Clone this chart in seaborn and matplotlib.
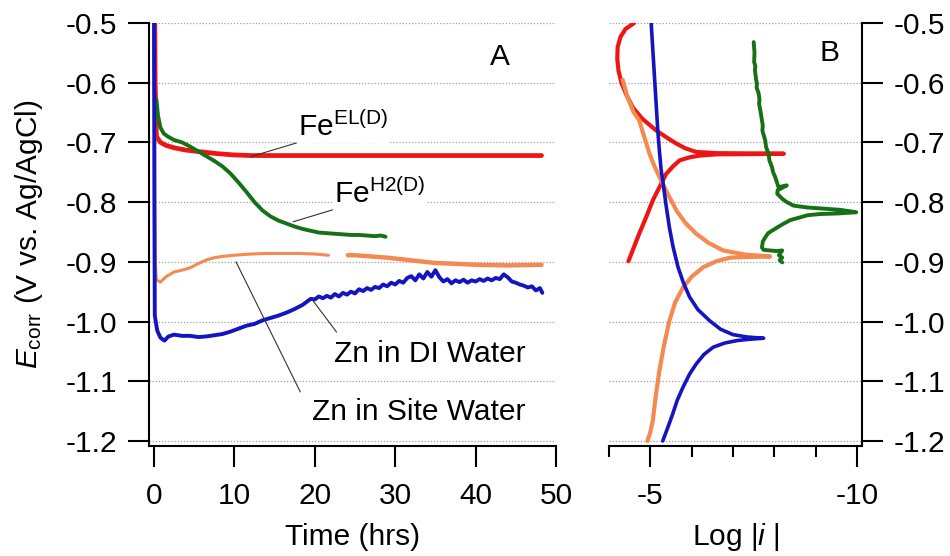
import numpy as np
import pandas as pd
import matplotlib
matplotlib.use('Agg')
import matplotlib.pyplot as plt
import seaborn as sns

# ---- Panel A: open circuit potential vs time ----
zn_di_t = [0.0, 0.05, 0.1, 0.4, 0.8, 1.3, 1.8, 2.5, 3.5, 4.5, 5.5, 6.5, 7.5, 8.5, 9.5,
           10.5, 11.5, 12.5, 13.5, 14.5, 15.5, 16.5, 17.5, 18.5, 19.5, 20.0, 20.5, 21.0,
           21.5, 22.0, 22.5, 23.0, 23.5, 24.0, 24.5, 25.0, 25.5, 26.0, 26.5, 27.0, 27.5,
           28.0, 28.5, 29.0, 29.5, 30.0, 30.5, 31.0, 31.5, 32.0, 32.5, 33.0, 33.5, 34.0,
           34.5, 35.0, 35.5, 36.0, 36.5, 37.0, 37.5, 38.0, 38.5, 39.0, 39.5, 40.0, 40.5,
           41.0, 41.5, 42.0, 42.5, 43.0, 43.5, 44.0, 44.5, 45.0, 45.5, 46.0, 46.5, 47.0,
           47.5, 48.0, 48.3]
zn_di_e = [-0.45, -0.80, -0.99, -1.015, -1.027, -1.032, -1.025, -1.022, -1.024, -1.024,
           -1.026, -1.025, -1.023, -1.021, -1.017, -1.012, -1.007, -1.004, -0.998, -0.994,
           -0.990, -0.985, -0.979, -0.972, -0.962, -0.963, -0.958, -0.961, -0.957, -0.960,
           -0.954, -0.958, -0.952, -0.955, -0.950, -0.953, -0.946, -0.949, -0.944, -0.947,
           -0.942, -0.944, -0.938, -0.941, -0.935, -0.938, -0.932, -0.935, -0.927, -0.924,
           -0.931, -0.921, -0.928, -0.917, -0.925, -0.914, -0.926, -0.933, -0.929, -0.936,
           -0.931, -0.934, -0.930, -0.935, -0.931, -0.933, -0.929, -0.932, -0.928, -0.931,
           -0.927, -0.929, -0.921, -0.926, -0.933, -0.935, -0.938, -0.940, -0.943, -0.941,
           -0.948, -0.944, -0.952]

zn_site_t1 = [0.0, 0.15, 0.3, 0.8, 1.5, 2.5, 3.5, 4.5, 5.5, 6.5, 7.5, 8.5, 10, 12, 14, 16,
              18, 20, 21.7]
zn_site_e1 = [-0.45, -0.90, -0.930, -0.934, -0.925, -0.917, -0.914, -0.910, -0.903, -0.897,
              -0.893, -0.891, -0.889, -0.887, -0.886, -0.886, -0.886, -0.887, -0.889]
zn_site_t2 = [24.1, 25, 27, 29, 31, 33, 35, 37, 40, 44, 48.2]
zn_site_e2 = [-0.889, -0.889, -0.891, -0.893, -0.896, -0.899, -0.902, -0.903, -0.905,
              -0.906, -0.905]

fe_el_t = [0.05, 0.15, 0.3, 0.8, 1.5, 2.5, 4, 6, 8, 10, 12, 20, 30, 40, 48.2]
fe_el_e = [-0.40, -0.60, -0.690, -0.700, -0.705, -0.709, -0.713, -0.716, -0.719, -0.721,
           -0.722, -0.722, -0.722, -0.722, -0.722]

fe_h2_t = [0.3, 0.5, 0.8, 1.2, 1.7, 2.5, 3.5, 4.5, 5.5, 6.5, 7.5, 8.5, 9.5, 10.5, 11.5,
           12.5, 13.5, 14.5, 15.5, 16.5, 17.5, 18.5, 19.5, 20.5, 21.5, 22.5, 23.5, 24.5,
           25.5, 26.5, 27.5, 28.2, 28.8]
fe_h2_e = [-0.628, -0.655, -0.675, -0.685, -0.690, -0.696, -0.700, -0.707, -0.715, -0.723,
           -0.731, -0.740, -0.752, -0.767, -0.783, -0.800, -0.814, -0.824, -0.831, -0.836,
           -0.841, -0.845, -0.848, -0.851, -0.852, -0.853, -0.854, -0.855, -0.855, -0.856,
           -0.857, -0.856, -0.858]

# ---- Panel B: polarisation curves (log |i| vs E) ----
fe_el_logi = [-4.61, -4.40, -4.28, -4.21, -4.20, -4.23, -4.30, -4.42, -4.57, -4.80, -5.14,
              -5.40, -5.63, -5.85, -6.11, -6.6, -7.5, -8.23, -7.5, -6.6, -6.2, -5.95, -5.71,
              -5.55, -5.38, -5.22, -5.06, -4.90, -4.73, -4.60, -4.47]
fe_el_ep = [-0.500, -0.510, -0.523, -0.540, -0.560, -0.580, -0.600, -0.620, -0.641, -0.660,
            -0.680, -0.692, -0.702, -0.710, -0.716, -0.718, -0.7185, -0.719, -0.7195,
            -0.720, -0.722, -0.725, -0.730, -0.740, -0.753, -0.775, -0.797, -0.825, -0.853,
            -0.876, -0.899]

zn_site_logi = [-4.33, -4.45, -4.60, -4.73, -4.85, -4.98, -5.10, -5.26, -5.45, -5.63, -5.85,
                -6.11, -6.40, -6.76, -7.3, -7.9, -7.3, -6.93, -6.6, -6.28, -6.0, -5.79,
                -5.60, -5.46, -5.33, -5.22, -5.13, -5.06, -5.00, -4.93]
zn_site_ep = [-0.595, -0.625, -0.650, -0.663, -0.690, -0.719, -0.740, -0.764, -0.790, -0.814,
              -0.835, -0.853, -0.868, -0.881, -0.888, -0.891, -0.892, -0.893, -0.899, -0.909,
              -0.925, -0.943, -0.968, -0.999, -1.040, -1.082, -1.125, -1.166, -1.185, -1.200]

zn_di_logi = [-5.02, -5.06, -5.10, -5.14, -5.18, -5.22, -5.26, -5.30, -5.38, -5.46, -5.55,
              -5.67, -5.80, -5.95, -6.15, -6.44, -6.70, -7.00, -7.35, -7.74, -7.35, -7.09,
              -6.80, -6.52, -6.30, -6.11, -5.95, -5.79, -5.65, -5.54, -5.42, -5.30]
zn_di_ep = [-0.500, -0.545, -0.590, -0.635, -0.680, -0.715, -0.745, -0.764, -0.805, -0.842,
            -0.875, -0.909, -0.935, -0.959, -0.980, -0.999, -1.013, -1.022, -1.026, -1.028,
            -1.030, -1.032, -1.036, -1.043, -1.055, -1.071, -1.088, -1.110, -1.132, -1.155,
            -1.178, -1.200]

fe_h2_logi = [-7.50, -7.52, -7.51, -7.54, -7.53, -7.56, -7.58, -7.57, -7.62, -7.64, -7.63, -7.67, -7.70,
              -7.72, -7.71, -7.78, -7.80, -7.86, -7.88, -7.94, -7.97, -8.02, -8.10, -8.30, -8.08, -8.07,
              -8.20, -8.30, -8.47, -8.80, -9.20, -9.60, -9.98, -9.54, -9.10, -8.80, -8.60, -8.39, -8.20,
              -7.94, -7.85, -7.78, -7.72, -7.70, -7.74, -7.90, -8.05, -8.19, -8.11, -8.19, -8.13, -8.19]
fe_h2_ep = [-0.532, -0.550, -0.565, -0.572, -0.579, -0.595, -0.602, -0.608, -0.618, -0.628, -0.635, -0.650, -0.663,
            -0.672, -0.680, -0.697, -0.708, -0.719, -0.730, -0.741, -0.750, -0.758, -0.775, -0.772, -0.780, -0.786,
            -0.795, -0.800, -0.806, -0.809, -0.811, -0.813, -0.817, -0.819, -0.820, -0.822, -0.826, -0.830, -0.837,
            -0.848, -0.852, -0.859, -0.866, -0.876, -0.880, -0.881, -0.882, -0.881, -0.889, -0.893, -0.897, -0.901]

e_ticks = [-0.5, -0.6, -0.7, -0.8, -0.9, -1.0, -1.1, -1.2]
time_ticks = [0, 10, 20, 30, 40, 50]

RED = '#ee1515'
GREEN = '#167016'
BLUE = '#1414c0'
ORANGE = '#f58a50'

sns.set_style('white')
plt.rcParams['font.family'] = ['Liberation Sans', 'DejaVu Sans']
plt.rcParams['mathtext.fontset'] = 'custom'
plt.rcParams['mathtext.rm'] = 'Liberation Sans'
plt.rcParams['mathtext.it'] = 'Liberation Sans:italic'
plt.rcParams['axes.unicode_minus'] = False
for k in ['text.color', 'axes.labelcolor', 'xtick.color', 'ytick.color']:
    plt.rcParams[k] = 'black'
FS = 21.5

fig = plt.figure(figsize=(9.5, 5.56), dpi=100)
axA = fig.add_axes([149 / 950, 110 / 556, 407 / 950, 423 / 556])
axB = fig.add_axes([609 / 950, 110 / 556, 253 / 950, 423 / 556])

ylim = (-1.2085, -0.5)
grid_kw = dict(color='#a0a0a0', linestyle=(0, (1, 1.5)), linewidth=0.9)
line_kw = dict(sort=False, estimator=None)

# Panel A
sns.lineplot(x=fe_el_t, y=fe_el_e, ax=axA, color=RED, lw=3.4, **line_kw)
sns.lineplot(x=fe_h2_t, y=fe_h2_e, ax=axA, color=GREEN, lw=2.8, **line_kw)
sns.lineplot(x=zn_site_t1, y=zn_site_e1, ax=axA, color=ORANGE, lw=2.2, **line_kw)
sns.lineplot(x=zn_site_t2, y=zn_site_e2, ax=axA, color=ORANGE, lw=3.2, **line_kw)
sns.lineplot(x=zn_di_t, y=zn_di_e, ax=axA, color=BLUE, lw=2.8, **line_kw)

axA.set_xlim(-0.62, 50)
axA.set_ylim(*ylim)
axA.set_xticks(time_ticks)
axA.set_yticks(e_ticks)
axA.set_yticklabels([f'{v:.1f}' for v in e_ticks])
axA.yaxis.grid(True, **grid_kw)
axA.set_axisbelow(True)
for s in ['top', 'right']:
    axA.spines[s].set_visible(False)
axA.set_xlabel('Time (hrs)', fontsize=FS, labelpad=9)
axA.set_ylabel(r'$E_{\mathrm{corr}}$ (V vs. Ag/AgCl)', fontsize=FS)
axA.yaxis.set_label_coords(-0.255, 0.5)
axA.text(0.862, 0.92, 'A', transform=axA.transAxes, fontsize=FS, ha='center', va='center')
axA.tick_params(bottom=True, left=True)

box = dict(facecolor='white', edgecolor='none', pad=1)
axA.text(17.9, -0.689, r'Fe$^{\mathrm{EL(D)}}$', fontsize=FS, ha='left', va='baseline', bbox=box)
axA.text(22.4, -0.8015, r'Fe$^{\mathrm{H2(D)}}$', fontsize=FS, ha='left', va='baseline', bbox=box)
axA.text(22.4, -1.067, 'Zn in DI Water', fontsize=FS, ha='left', va='baseline')
axA.text(19.6, -1.165, 'Zn in Site Water', fontsize=FS, ha='left', va='baseline')
lead = dict(arrowstyle='-', lw=0.8, color='#333333', shrinkA=0, shrinkB=0)
axA.annotate('', xy=(12.0, -0.724), xytext=(17.7, -0.701), arrowprops=lead)
axA.annotate('', xy=(17.3, -0.833), xytext=(22.2, -0.813), arrowprops=lead)
axA.annotate('', xy=(19.55, -0.961), xytext=(22.7, -1.0176), arrowprops=lead)
axA.annotate('', xy=(10.2, -0.900), xytext=(18.2, -1.118), arrowprops=lead)

# Panel B
sns.lineplot(x=fe_el_logi, y=fe_el_ep, ax=axB, color=RED, lw=3.0, **line_kw)
sns.lineplot(x=zn_site_logi, y=zn_site_ep, ax=axB, color=ORANGE, lw=3.0, **line_kw)
sns.lineplot(x=zn_di_logi, y=zn_di_ep, ax=axB, color=BLUE, lw=2.6, **line_kw)
sns.lineplot(x=fe_h2_logi, y=fe_h2_ep, ax=axB, color=GREEN, lw=2.8, **line_kw)

axB.set_xlim(-4, -10.12)
axB.set_ylim(*ylim)
axB.set_xticks([-5, -10])
axB.set_xticks([-4, -6, -7, -8, -9], minor=True)
axB.set_yticks(e_ticks)
axB.set_yticklabels([f'{v:.1f}' for v in e_ticks])
axB.yaxis.tick_right()
axB.yaxis.grid(True, **grid_kw)
axB.set_axisbelow(True)
for s in ['top', 'left']:
    axB.spines[s].set_visible(False)
axB.set_xlabel(r'Log |$i$ |', fontsize=FS, labelpad=8)
axB.text(0.873, 0.929, 'B', transform=axB.transAxes, fontsize=FS, ha='center', va='center')
axB.tick_params(which='both', bottom=True, right=True, left=False)

for ax in (axA, axB):
    for s in ax.spines.values():
        s.set_linewidth(1.5)
        s.set_color('black')
    ax.tick_params(axis='both', which='major', direction='out', length=15, width=1.5,
                   labelsize=FS, color='black')
    ax.tick_params(axis='x', which='major', pad=11)
    ax.tick_params(axis='y', which='major', pad=8)
    ax.tick_params(axis='x', which='minor', direction='out', length=8, width=1.5,
                   color='black')

fig.savefig('out.png', dpi=100)
plt.close(fig)
